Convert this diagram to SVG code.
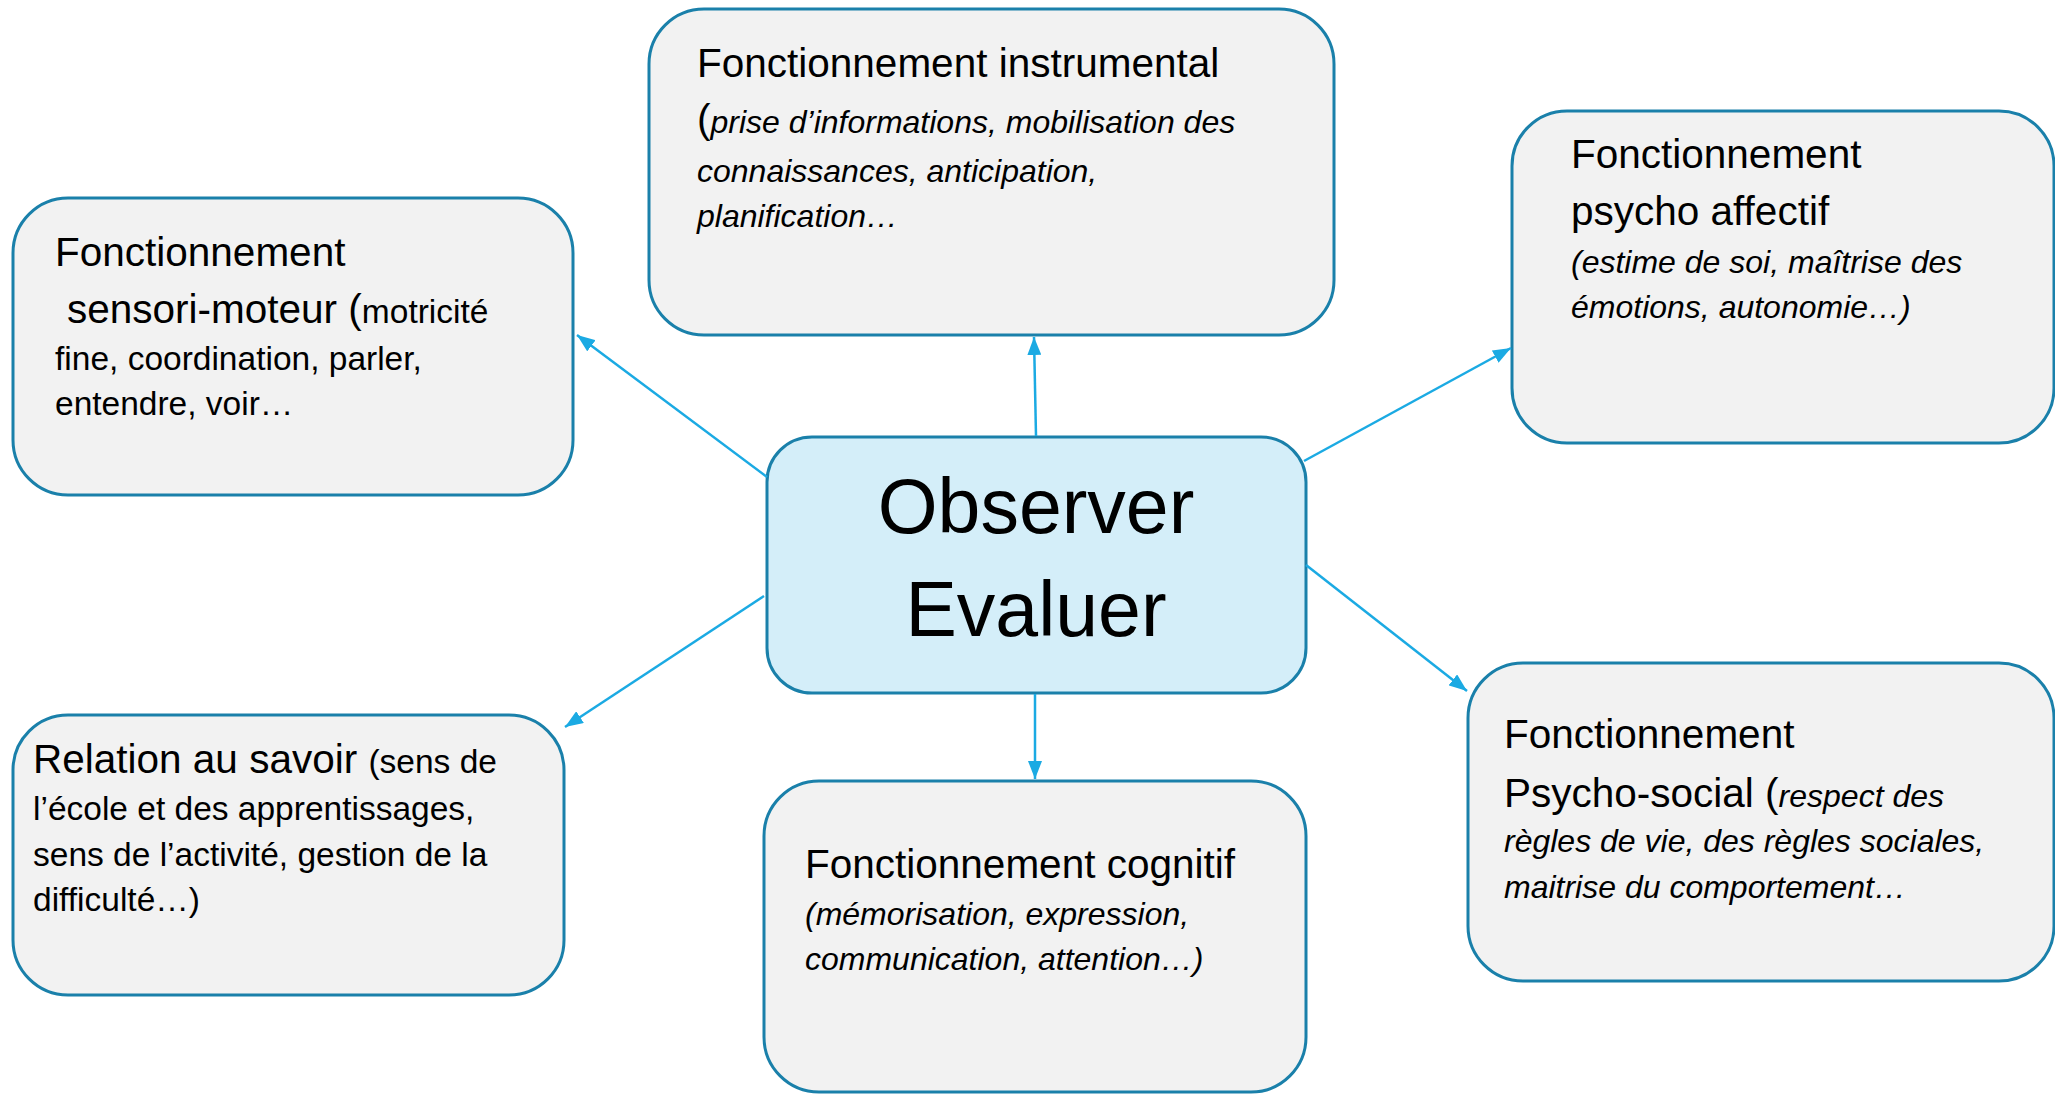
<svg xmlns="http://www.w3.org/2000/svg" width="2055" height="1094" viewBox="0 0 2055 1094">
<style>
.box{fill:#F2F2F2;stroke:#1A80AA;stroke-width:3}
.center{fill:#D4EEF9;stroke:#1A80AA;stroke-width:3}
text{font-family:"Liberation Sans",Arial,sans-serif;fill:#000}
.t{font-size:40.5px}
.b{font-size:33.5px}
.i{font-size:32px;font-style:italic}
.big{font-size:77px}
.conn{stroke:#1BAAE3;stroke-width:2.5;fill:none;marker-end:url(#arr)}
</style>
<defs>
<marker id="arr" markerUnits="userSpaceOnUse" markerWidth="18" markerHeight="14" refX="18" refY="7" orient="auto">
<path d="M0,0 L18,7 L0,14 z" fill="#1BAAE3"/>
</marker>
</defs>
<rect width="2055" height="1094" fill="#FFFFFF"/>
<g id="instrumental">
<rect class="box" x="649" y="9" width="685" height="326" rx="55"/>
<text class="t" x="697" y="77">Fonctionnement instrumental</text>
<text x="697" y="133"><tspan class="t">(</tspan><tspan class="i">prise d’informations, mobilisation des</tspan></text>
<text class="i" x="697" y="182">connaissances, anticipation,</text>
<text class="i" x="697" y="227">planification…</text>
</g>
<g id="sensori-moteur">
<rect class="box" x="13" y="198" width="560" height="297" rx="55"/>
<text class="t" x="55" y="266">Fonctionnement</text>
<text x="67" y="323"><tspan class="t">sensori-moteur (</tspan><tspan class="b">motricité</tspan></text>
<text class="b" x="55" y="370">fine, coordination, parler,</text>
<text class="b" x="55" y="415">entendre, voir…</text>
</g>
<g id="psycho-affectif">
<rect class="box" x="1512" y="111" width="542" height="332" rx="55"/>
<text class="t" x="1571" y="168">Fonctionnement</text>
<text class="t" x="1571" y="225">psycho affectif</text>
<text class="i" x="1571" y="273">(estime de soi, maîtrise des</text>
<text class="i" x="1571" y="318">émotions, autonomie…)</text>
</g>
<g id="relation-savoir">
<rect class="box" x="13" y="715" width="551" height="280" rx="55"/>
<text x="33" y="773"><tspan class="t">Relation au savoir </tspan><tspan class="b">(sens de</tspan></text>
<text class="b" x="33" y="820">l’école et des apprentissages,</text>
<text class="b" x="33" y="866">sens de l’activité, gestion de la</text>
<text class="b" x="33" y="911">difficulté…)</text>
</g>
<g id="cognitif">
<rect class="box" x="764" y="781" width="542" height="311" rx="55"/>
<text class="t" x="805" y="878">Fonctionnement cognitif</text>
<text class="i" x="805" y="925">(mémorisation, expression,</text>
<text class="i" x="805" y="970">communication, attention…)</text>
</g>
<g id="psycho-social">
<rect class="box" x="1468" y="663" width="586" height="318" rx="55"/>
<text class="t" x="1504" y="748">Fonctionnement</text>
<text x="1504" y="807"><tspan class="t">Psycho-social (</tspan><tspan class="i">respect des</tspan></text>
<text class="i" x="1504" y="852">règles de vie, des règles sociales,</text>
<text class="i" x="1504" y="898">maitrise du comportement…</text>
</g>
<g id="observer-evaluer">
<rect class="center" x="767" y="437" width="539" height="256" rx="45"/>
<text class="big" x="1036" y="533" text-anchor="middle">Observer</text>
<text class="big" x="1036" y="636" text-anchor="middle">Evaluer</text>
</g>
<g id="connectors">
<line class="conn" x1="1036" y1="436" x2="1034" y2="337"/>
<line class="conn" x1="767" y1="477" x2="577" y2="335"/>
<line class="conn" x1="764" y1="596" x2="565" y2="727"/>
<line class="conn" x1="1035" y1="694" x2="1035" y2="779"/>
<line class="conn" x1="1304" y1="461" x2="1511" y2="348"/>
<line class="conn" x1="1306" y1="565" x2="1467" y2="691"/>
</g>
</svg>
